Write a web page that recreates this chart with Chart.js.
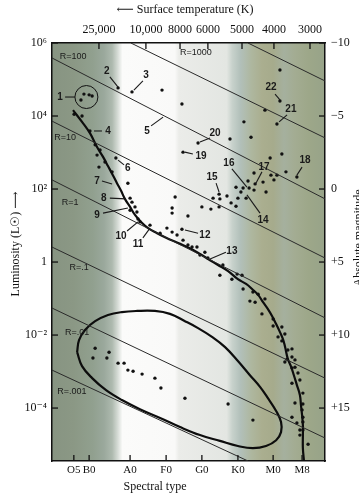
<!DOCTYPE html>
<html><head><meta charset="utf-8">
<script src="https://cdn.jsdelivr.net/npm/chart.js@4.4.1/dist/chart.umd.min.js"></script>
<style>html,body{margin:0;padding:0;background:#fff;overflow:hidden}canvas{display:block}</style>
</head><body>
<canvas id="c" width="359" height="497"></canvas>
<script>
// x: position along the spectral sequence (0 = left frame, 100 = right frame)
// y: log10(L / Lsun)
const spectralLabels = ['O5','B0','A0','F0','G0','K0','M0','M8'];
const spectralPos    = [8.0,13.6,28.6,41.8,54.9,68.1,81.0,91.6];
const tempLabels = ['25,000','10,000','8000','6000','5000','4000','3000'];
const tempPos    = [17.2,34.4,46.9,57.1,69.6,81.3,94.5];
const lumTicks  = [6,4,2,0,-2,-4];
const lumLabels = ['10\u2076','10\u2074','10\u00b2','1','10\u207b\u00b2','10\u207b\u2074'];
const magTicks  = [-10,-5,0,5,10,15];
const magLabels = ['\u221210','\u22125','0','+5','+10','+15'];

const brightStars = [[11.7,4.60],[13.6,4.58],[10.6,4.44],[14.7,4.55],[24.2,4.77],[29.3,4.66],[40.3,4.71],[47.6,4.33],
  [45.1,1.78],[44.0,1.48],[44.0,1.34],[47.6,0.90],[49.8,1.26]];
const giantStars = [[83.5,5.26],[83.5,4.41],[78.0,4.16],[82.4,3.78],[70.3,3.84],[72.9,3.42],[65.2,3.37],[53.5,3.26],
  [48.0,3.01],[84.2,2.96],[79.9,2.85],[74.0,2.44],[80.2,2.38],[82.4,2.38],[81.3,2.25],[85.7,2.47],[89.7,2.33],
  [71.8,2.22],[77.3,2.19],[74.4,2.14],[67.4,2.05],[70.0,2.03],[72.2,2.03],[74.0,1.97],[78.4,1.92],[69.2,1.92],
  [61.2,1.86],[64.1,1.81],[68.1,1.75],[71.1,1.75],[61.5,1.73],[59.0,1.75],[65.6,1.62],[67.4,1.53],[61.2,1.51],
  [54.9,1.51],[58.2,1.45]];
const mainSeqStars = [[8.1,4.05],[11.0,4.00],[13.9,3.59],[15.8,3.21],[17.6,3.07],[16.5,2.93],[19.4,2.74],[17.2,2.60],
  [23.4,2.85],[22.0,2.47],[27.8,2.16],[28.6,1.75],[29.3,1.64],[30.4,1.51],[28.6,1.42],[31.1,1.37],[31.5,1.18],
  [32.2,1.10],[35.9,1.01],[39.6,0.79],[42.1,0.93],[44.0,0.82],[45.8,0.74],[48.0,0.60],[49.8,0.47],[51.3,0.41],
  [53.1,0.41],[56.0,0.27],[54.2,0.19],[57.1,0.11],[62.6,-0.08],[61.5,-0.36],[65.9,-0.47],[67.8,-0.33],[69.6,-0.36],
  [70.0,-0.74],[73.6,-0.82],[75.5,-0.88],[72.5,-1.07],[74.4,-1.10],[78.0,-1.01],[76.9,-1.42],[81.0,-1.56],
  [81.0,-1.75],[84.2,-1.78],[82.8,-2.05],[85.3,-1.97],[84.2,-2.16],[86.4,-2.41],[87.9,-2.38],[86.1,-2.66],
  [87.9,-2.60],[89.0,-2.68],[85.3,-2.74],[87.9,-2.90],[89.0,-2.88],[90.1,-3.04],[90.8,-3.23],[87.9,-3.32],
  [91.9,-3.59],[89.0,-3.86],[91.9,-3.89],[91.6,-4.05],[87.9,-4.25],[91.9,-4.25],[89.7,-4.41],[91.9,-4.38],
  [90.8,-4.60],[91.9,-4.60],[90.8,-4.74],[93.8,-4.99]];
const whiteDwarfStars = [[15.8,-2.36],[20.9,-2.47],[15.0,-2.63],[20.1,-2.63],[24.2,-2.77],[26.4,-2.77],[27.8,-2.96],
  [29.7,-2.99],[33.0,-3.07],[37.7,-3.18],[39.9,-3.45],[48.7,-3.73],[64.5,-3.89],[73.6,-4.33]];
const mainSeqCurve = [[7.7,4.16],[11.0,3.84],[13.9,3.53],[16.5,3.15],[18.7,2.88],[20.5,2.63],[22.3,2.38],[23.8,2.16],
  [25.3,1.95],[26.7,1.73],[28.6,1.51],[30.4,1.29],[32.6,1.10],[35.2,0.93],[38.5,0.79],[41.4,0.68],[46.2,0.52],
  [50.5,0.38],[54.2,0.22],[57.9,0.05],[60.8,-0.08],[64.5,-0.25],[68.1,-0.47],[71.1,-0.60],[73.3,-0.74],[75.5,-0.90],
  [77.3,-1.10],[79.1,-1.29],[80.6,-1.48],[82.1,-1.70],[83.5,-1.92],[84.6,-2.11],[85.3,-2.30],[86.4,-2.66],
  [87.5,-2.85],[88.6,-3.10],[89.7,-3.37],[90.8,-3.64],[91.2,-3.92],[91.6,-4.19],[91.9,-4.47],[91.9,-4.74],
  [91.9,-5.10],[92.3,-5.45]];
const whiteDwarfOutline = [[9.2,-2.47],[9.9,-2.14],[12.1,-1.86],[15.8,-1.62],[20.5,-1.45],[25.6,-1.37],[31.1,-1.34],
  [37.7,-1.34],[43.2,-1.42],[48.7,-1.62],[53.5,-1.81],[58.6,-2.05],[63.4,-2.33],[68.1,-2.71],[72.5,-3.10],
  [76.2,-3.42],[79.1,-3.73],[82.1,-4.08],[83.9,-4.38],[83.9,-4.66],[82.1,-4.88],[78.4,-5.04],[73.6,-5.10],
  [68.1,-5.04],[61.5,-4.90],[54.2,-4.74],[46.9,-4.52],[39.6,-4.27],[32.2,-4.03],[25.6,-3.78],[19.8,-3.51],
  [14.7,-3.18],[11.0,-2.85],[9.2,-2.47]];
const groupOneCentre = [[12.6,4.52]];

const radiusLabels = ['R=10000','R=1000','R=100','R=10','R=1','R=.1','R=.01','R=.001'];
const radiusStart  = [[71.8,6.0],[28.9,6.0],[0,5.59],[0,3.86],[0,2.25],[0,0.41],[0,-1.26],[0,-2.96]];
const radiusEnd    = [[100,4.96],[100,3.40],[100,1.73],[100,0.11],[100,-1.53],[100,-3.18],[100,-4.82],[71.8,-5.45]];
const radiusTextAt = [null,[52.7,5.73],[7.7,5.64],[4.8,3.40],[6.6,1.64],[9.9,-0.14],[9.2,-1.92],[7.3,-3.56]];

const starNumbers = ['1','2','3','4','5','6','7','8','9','10','11','12','13','14','15','16','17','18','19','20','21','22'];
const starNumberAt = [[2.9,4.52],[20.1,5.23],[34.4,5.12],[20.5,3.59],[34.8,3.59],[27.8,2.58],[16.5,2.22],[19.0,1.75],
  [16.5,1.29],[25.3,0.71],[31.5,0.49],[56.0,0.74],[65.9,0.30],[77.3,1.15],[58.6,2.33],[64.8,2.71],[77.7,2.60],
  [92.7,2.79],[54.6,2.90],[59.7,3.53],[87.5,4.19],[80.2,4.79]];
const leaderFrom = [[4.8,4.52],[21.2,5.07],[33.3,4.96],[15.4,3.59],[36.3,3.73],[24.2,2.79],[18.3,2.22],[21.2,1.75],
  [18.7,1.34],[27.5,0.85],[33.3,0.66],[53.5,0.79],[63.7,0.27],[76.2,1.34],[60.1,2.16],[65.9,2.55],[76.9,2.47],
  [91.6,2.60],[51.6,2.96],[57.9,3.40],[86.1,4.03],[81.7,4.60]];
const leaderTo = [[8.4,4.52],[24.2,4.79],[30.0,4.71],[18.3,3.59],[40.7,3.97],[26.4,2.66],[22.0,2.14],[27.1,1.73],
  [27.8,1.48],[31.5,1.10],[35.9,0.93],[48.7,0.88],[57.9,0.08],[71.4,1.84],[61.2,1.92],[71.4,2.05],[74.7,2.16],
  [89.7,2.38],[48.7,3.01],[54.2,3.29],[83.2,3.84],[83.5,4.44]];

const bandStops = [[0,'#879482'],[8,'#8b9885'],[15,'#91a08f'],[19,'#9aa89c'],[22,'#adb9ae'],[24,'#d4dad4'],
  [25.8,'#fbfbfa'],[45,'#f9f9f8'],[46.5,'#ebece9'],[64,'#e3e6e2'],[66,'#c8d2cc'],[69,'#b2c0ba'],[73,'#aeb79f'],
  [77,'#aaae8f'],[81,'#a6ab8c'],[85,'#a5b09e'],[89,'#a3ac92'],[94,'#9da789'],[100,'#97a389']];

const SERIF = "'Liberation Serif','DejaVu Serif',serif";
const SANS = "'Liberation Sans','DejaVu Sans',sans-serif";
const toXY = a => a.map(p => ({x:p[0], y:p[1]}));

const bandsPlugin = {
  id:'bands',
  beforeDraw(chart){
    const {ctx, chartArea:a, scales:{x}} = chart;
    const g = ctx.createLinearGradient(a.left,0,a.right,0);
    bandStops.forEach(([v,c]) => g.addColorStop(Math.min(1,Math.max(0,(x.getPixelForValue(v)-a.left)/(a.right-a.left))), c));
    ctx.save(); ctx.fillStyle = g; ctx.fillRect(a.left,a.top,a.right-a.left,a.bottom-a.top); ctx.restore();
  }
};

const notesPlugin = {
  id:'notes',
  afterDraw(chart){
    const {ctx, chartArea:a, scales} = chart;
    const X = v => scales.x.getPixelForValue(v), Y = v => scales.y.getPixelForValue(v);
    ctx.save();
    ctx.beginPath(); ctx.rect(a.left,a.top,a.right-a.left,a.bottom-a.top); ctx.clip();
    ctx.strokeStyle = '#1a1a1a'; ctx.lineWidth = 1.1;
    leaderFrom.forEach((f,i) => { const t = leaderTo[i]; ctx.beginPath(); ctx.moveTo(X(f[0]),Y(f[1])); ctx.lineTo(X(t[0]),Y(t[1])); ctx.stroke(); });
    ctx.fillStyle = '#1a1a1a'; ctx.textAlign = 'center'; ctx.textBaseline = 'middle';
    ctx.font = "bold 10px " + SANS;
    starNumbers.forEach((s,i) => ctx.fillText(s, X(starNumberAt[i][0]), Y(starNumberAt[i][1])));
    ctx.font = "9px " + SANS;
    radiusLabels.forEach((s,i) => { const p = radiusTextAt[i]; if (p) ctx.fillText(s, X(p[0]), Y(p[1])); });
    ctx.restore();
    // inward tick marks
    ctx.save(); ctx.strokeStyle = '#111'; ctx.lineWidth = 1.3;
    const seg = (x1,y1,x2,y2) => { ctx.beginPath(); ctx.moveTo(x1,y1); ctx.lineTo(x2,y2); ctx.stroke(); };
    spectralPos.forEach(v => seg(X(v), a.bottom, X(v), a.bottom-6));
    tempPos.forEach(v => seg(scales.xTop.getPixelForValue(v), a.top, scales.xTop.getPixelForValue(v), a.top+6));
    lumTicks.forEach(v => seg(a.left, Y(v), a.left+6, Y(v)));
    magTicks.forEach(v => seg(a.right, scales.yMag.getPixelForValue(v), a.right-6, scales.yMag.getPixelForValue(v)));
    ctx.restore();
    // titles
    ctx.save(); ctx.fillStyle = '#111'; ctx.textAlign = 'center'; ctx.textBaseline = 'middle';
    ctx.font = "12px " + SERIF;
    ctx.fillText('\u27f5 Surface temperature (K)', 185, 10);
    ctx.fillText('Spectral type', 155, 487);
    ctx.save(); ctx.translate(16, 244); ctx.rotate(-Math.PI/2); ctx.fillText('Luminosity (L\u2609) \u27f6', 0, 0); ctx.restore();
    ctx.save(); ctx.translate(359, 238); ctx.rotate(-Math.PI/2); ctx.fillText('Absolute magnitude', 0, 0); ctx.restore();
    ctx.restore();
  }
};

const dotStyle = {pointRadius:1.7, pointHoverRadius:1.7, pointBackgroundColor:'#111', pointBorderWidth:0, showLine:false};
const radiusSets = radiusStart.map((s,i) => ({label:radiusLabels[i], data:toXY([s, radiusEnd[i]]), showLine:true,
  borderColor:'#2a2a2a', borderWidth:1, pointRadius:0, tension:0}));

new Chart(document.getElementById('c'), {
  type:'scatter',
  data:{datasets:[
    ...radiusSets,
    {label:'Main sequence', data:toXY(mainSeqCurve), showLine:true, borderColor:'#0d0d0d', borderWidth:2.2, pointRadius:0, tension:0.4},
    {label:'White dwarf region', data:toXY(whiteDwarfOutline), showLine:true, borderColor:'#0d0d0d', borderWidth:2.2, pointRadius:0, tension:0.4},
    {label:'Group 1', data:toXY(groupOneCentre), pointRadius:11.5, pointHoverRadius:11.5, pointBackgroundColor:'rgba(0,0,0,0)', pointBorderColor:'#111', pointBorderWidth:1, showLine:false},
    {label:'Bright stars', data:toXY(brightStars), ...dotStyle},
    {label:'Giants', data:toXY(giantStars), ...dotStyle},
    {label:'Main-sequence stars', data:toXY(mainSeqStars), ...dotStyle},
    {label:'White dwarfs', data:toXY(whiteDwarfStars), ...dotStyle}
  ]},
  options:{
    responsive:false, animation:false, devicePixelRatio:1,
    layout:{padding:0},
    plugins:{legend:{display:false}, tooltip:{enabled:false}, title:{display:false}},
    scales:{
      x:{type:'linear', position:'bottom', min:0, max:100,
        afterBuildTicks:s => { s.ticks = spectralPos.map(v => ({value:v})); },
        ticks:{autoSkip:false, maxRotation:0, minRotation:0, padding:3, color:'#111', font:{family:SERIF, size:11}, callback:(v,i) => spectralLabels[i]},
        grid:{drawOnChartArea:false, drawTicks:false}, border:{display:true, color:'#111', width:1.5},
        afterFit:s => { s.height = 36; }},
      xTop:{type:'linear', position:'top', min:0, max:100,
        afterBuildTicks:s => { s.ticks = tempPos.map(v => ({value:v})); },
        ticks:{autoSkip:false, maxRotation:0, minRotation:0, padding:6, color:'#111', font:{family:SERIF, size:12}, callback:(v,i) => tempLabels[i]},
        grid:{drawOnChartArea:false, drawTicks:false}, border:{display:true, color:'#111', width:1.5},
        afterFit:s => { s.height = 43; }},
      y:{type:'linear', position:'left', min:-5.45, max:6,
        afterBuildTicks:s => { s.ticks = lumTicks.map(v => ({value:v})); },
        ticks:{autoSkip:false, padding:5, color:'#111', font:{family:SERIF, size:12}, callback:(v,i) => lumLabels[i]},
        grid:{drawOnChartArea:false, drawTicks:false}, border:{display:true, color:'#111', width:1.5},
        afterFit:s => { s.width = 52; }},
      yMag:{type:'linear', position:'right', min:-10, max:18.625, reverse:true,
        afterBuildTicks:s => { s.ticks = magTicks.map(v => ({value:v})); },
        ticks:{autoSkip:false, padding:6, color:'#111', font:{family:SERIF, size:12}, callback:(v,i) => magLabels[i]},
        grid:{drawOnChartArea:false, drawTicks:false}, border:{display:true, color:'#111', width:1.5},
        afterFit:s => { s.width = 34; }}
    }
  },
  plugins:[bandsPlugin, notesPlugin]
});
</script>
</body></html>
